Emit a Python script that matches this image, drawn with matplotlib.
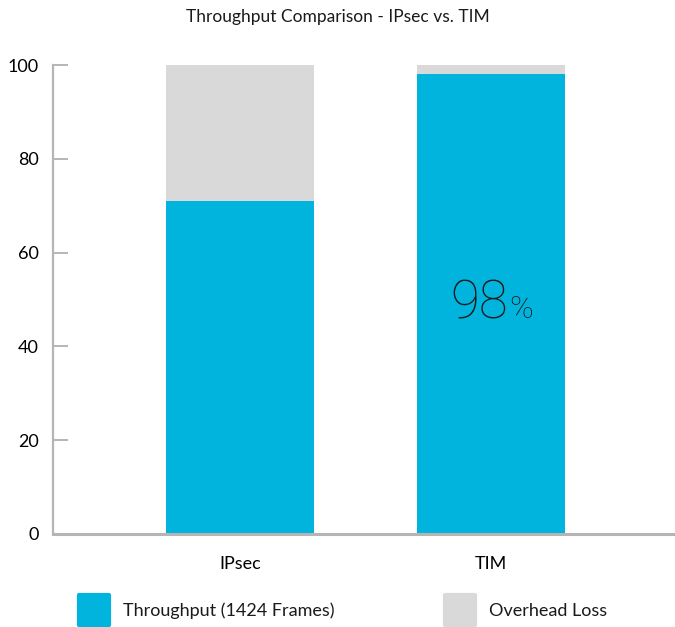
import matplotlib.pyplot as plt
from matplotlib.lines import Line2D
from matplotlib.markers import MarkerStyle

categories = ["IPsec", "TIM"]
throughput = [71, 98]
overhead = [29, 2]
yticks = [0, 20, 40, 60, 80, 100]

blue = "#00b4dd"
gray = "#d9d9d9"
spine = "#b5b5b5"

plt.rcParams["font.family"] = ["Lato", "DejaVu Sans"]
plt.rcParams["text.color"] = "#1a1a1a"

fig = plt.figure(figsize=(6.75, 6.27), dpi=100)
ax = fig.add_axes([53 / 675, 1 - 534 / 627, 1 - 53 / 675, (534 - 65) / 627])

x = list(range(len(categories)))
ax.bar(x, throughput, width=0.59, color=blue, zorder=2)
ax.bar(x, overhead, width=0.59, bottom=throughput, color=gray, zorder=2)

ax.set_xlim(-0.745, 1.733)
ax.set_ylim(0, 100)
ax.set_yticks(yticks)
ax.set_xticks(x)
ax.set_xticklabels(categories)

for s in ["top", "right"]:
    ax.spines[s].set_visible(False)
ax.spines["left"].set_color(spine)
ax.spines["bottom"].set_color(spine)
ax.spines["left"].set_linewidth(1.6)
ax.spines["bottom"].set_linewidth(2.2)
ax.tick_params(axis="y", direction="in", length=11, width=1.4, color=spine,
               labelsize=13, pad=10)
ax.tick_params(axis="x", length=0, labelsize=13, pad=16)

# annotation inside TIM bar
ax.text(1.066, 46, "98", ha="right", va="baseline", fontsize=38,
        family=["Roboto", "DejaVu Sans"], fontweight="light", zorder=3)
ax.text(1.074, 46, "%", ha="left", va="baseline", fontsize=23,
        family=["Roboto", "DejaVu Sans"], fontweight="light", zorder=3)

fig.suptitle("Throughput Comparison - IPsec vs. TIM", y=0.985, fontsize=12.5)

handles = [
    Line2D([], [], linestyle="none", marker=MarkerStyle("s", joinstyle="round"),
           markersize=21, markerfacecolor=blue, markeredgecolor=blue,
           markeredgewidth=3, label="Throughput (1424 Frames)"),
    Line2D([], [], linestyle="none", marker=MarkerStyle("s", joinstyle="round"),
           markersize=21, markerfacecolor=gray, markeredgecolor=gray,
           markeredgewidth=3, label="Overhead Loss"),
]
fig.legend(handles=handles, loc="center", bbox_to_anchor=(0.506, 0.026),
           ncol=2, frameon=False, fontsize=13, columnspacing=6.0,
           handletextpad=0.6)

fig.savefig("out.png", dpi=100)
